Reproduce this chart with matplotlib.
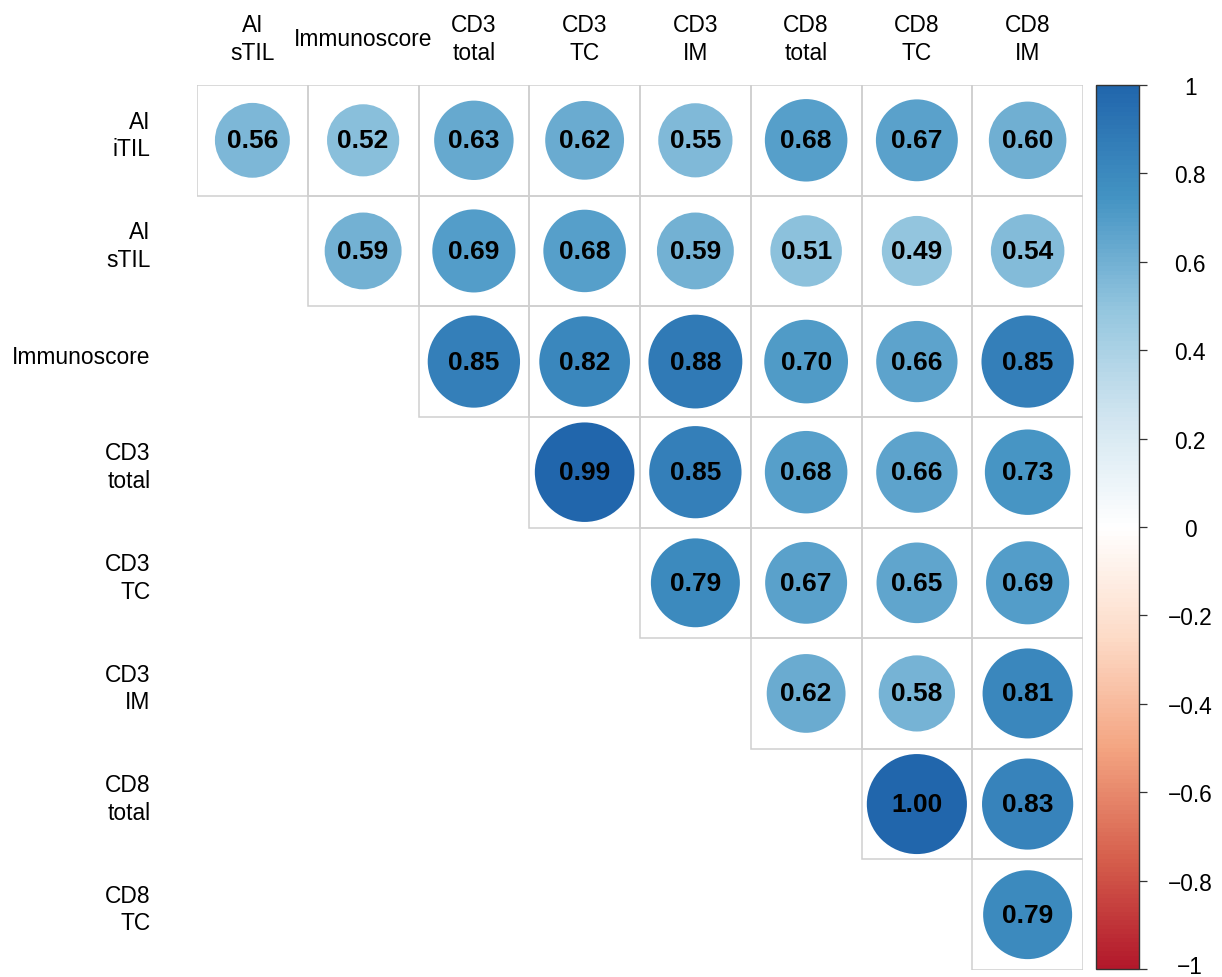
import numpy as np
import matplotlib
matplotlib.use("Agg")
import matplotlib.pyplot as plt
from matplotlib.colors import LinearSegmentedColormap, Normalize
from matplotlib.patches import Circle, Rectangle
from matplotlib.cm import ScalarMappable

plt.rcParams["font.family"] = ["Liberation Sans", "DejaVu Sans"]

row_labels = ["AI\niTIL", "AI\nsTIL", "Immunoscore", "CD3\ntotal", "CD3\nTC",
              "CD3\nIM", "CD8\ntotal", "CD8\nTC"]
col_labels = ["AI\nsTIL", "Immunoscore", "CD3\ntotal", "CD3\nTC", "CD3\nIM",
              "CD8\ntotal", "CD8\nTC", "CD8\nIM"]

# Upper-triangle correlation rows (row i starts at column i)
r_ai_itil = [0.56, 0.52, 0.63, 0.62, 0.55, 0.68, 0.67, 0.60]
r_ai_stil = [0.59, 0.69, 0.68, 0.59, 0.51, 0.49, 0.54]
r_immunoscore = [0.85, 0.82, 0.88, 0.70, 0.66, 0.85]
r_cd3_total = [0.99, 0.85, 0.68, 0.66, 0.73]
r_cd3_tc = [0.79, 0.67, 0.65, 0.69]
r_cd3_im = [0.62, 0.58, 0.81]
r_cd8_total = [1.00, 0.83]
r_cd8_tc = [0.79]

rows = [r_ai_itil, r_ai_stil, r_immunoscore, r_cd3_total, r_cd3_tc,
        r_cd3_im, r_cd8_total, r_cd8_tc]

cbar_ticks = [1, 0.8, 0.6, 0.4, 0.2, 0, -0.2, -0.4, -0.6, -0.8, -1]

cmap = LinearSegmentedColormap.from_list(
    "rdbu9",
    ["#B2182B", "#D6604D", "#F4A582", "#FDDBC7", "#FFFFFF",
     "#D1E5F0", "#92C5DE", "#4393C3", "#2166AC"], N=200)
norm = Normalize(vmin=-1, vmax=1)

W, H = 1222, 978
fig = plt.figure(figsize=(W / 100, H / 100), dpi=100)

# main grid axes
gx0, gx1 = 197, 1083
gy0, gy1 = 86, 971
ax = fig.add_axes([gx0 / W, 1 - gy1 / H, (gx1 - gx0) / W, (gy1 - gy0) / H])
n = len(col_labels)
ax.set_xlim(0, n)
ax.set_ylim(n, 0)
ax.axis("off")

grid_col = "#cfcfcf"
rmax = 0.452
for i, vals in enumerate(rows):
    for k, v in enumerate(vals):
        j = i + k
        ax.add_patch(Rectangle((j, i), 1, 1, fill=False, edgecolor=grid_col,
                               linewidth=1.1, zorder=1))
        ax.add_patch(Circle((j + 0.5, i + 0.5), rmax * np.sqrt(abs(v)),
                            facecolor=cmap(norm(v)), edgecolor="none", zorder=2))
        ax.text(j + 0.5, i + 0.5, f"{v:.2f}", ha="center", va="center",
                fontsize=19, fontweight="bold", color="black", zorder=3)

for j, lab in enumerate(col_labels):
    ax.text(j + 0.5, -0.42, lab, ha="center", va="center", fontsize=16.4,
            linespacing=1.25, color="black", clip_on=False)

for i, lab in enumerate(row_labels):
    ax.text(-0.42, i + 0.45, lab, ha="right", va="center", fontsize=16.4,
            linespacing=1.25, multialignment="right", color="black",
            clip_on=False)

# colour bar
cx0, cx1 = 1096, 1139
cy0, cy1 = 86, 970
cax = fig.add_axes([cx0 / W, 1 - cy1 / H, (cx1 - cx0) / W, (cy1 - cy0) / H])
sm = ScalarMappable(norm=norm, cmap=cmap)
cb = fig.colorbar(sm, cax=cax, ticks=cbar_ticks)
cb.outline.set_edgecolor("#333333")
cb.outline.set_linewidth(1.0)
tick_text = [("\u2212" if t < 0 else "") + (f"{abs(t):g}") for t in cbar_ticks]
# the lowest label sits on the figure edge, so it is placed separately
cb.set_ticklabels(tick_text[:-1] + [""])
cax.tick_params(axis="y", length=5.8, width=0.9, color="#333333",
                pad=31, labelsize=16.4)
for lbl in cax.get_yticklabels():
    lbl.set_horizontalalignment("center")
    lbl.set_verticalalignment("center_baseline")
fig.text(1190 / W, 3.5 / H, tick_text[-1], ha="center", va="baseline",
         fontsize=16.4, color="black")

fig.savefig("out.png", dpi=100, facecolor="white")
